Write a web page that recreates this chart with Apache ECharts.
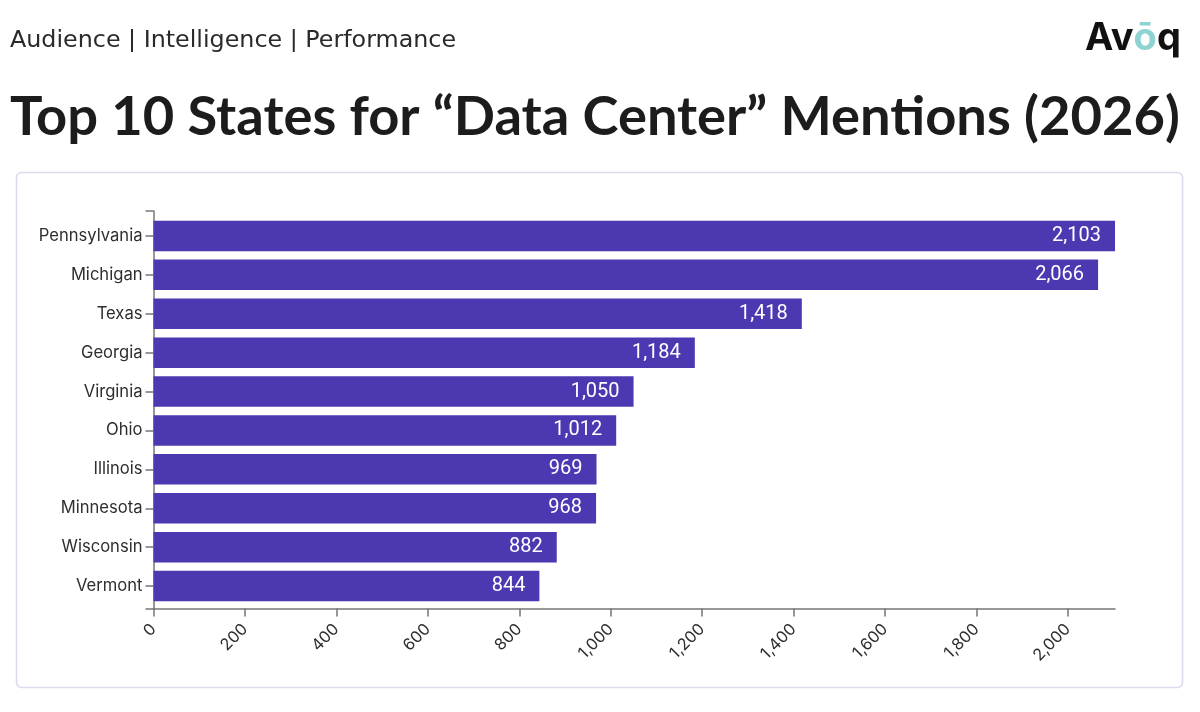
<!DOCTYPE html>
<html><head><meta charset="utf-8">
<style>html,body{margin:0;padding:0;background:#fff}#c{width:1200px;height:712px}</style>
<script src="https://cdn.jsdelivr.net/npm/echarts@6/dist/echarts.min.js"></script>
</head><body><div id="c"></div>
<script>
const states=["Pennsylvania","Michigan","Texas","Georgia","Virginia","Ohio","Illinois","Minnesota","Wisconsin","Vermont"];
const mentions=[2103,2066,1418,1184,1050,1012,969,968,882,844];
const axisMax=2103, tickStep=200;
const fmt=v=>Number(v).toLocaleString('en-US');
const axisColor='#757575', textColor='#2e2e2e';
const chart=echarts.init(document.getElementById('c'),null,{renderer:'canvas'});
chart.setOption({
  animation:false,
  backgroundColor:'#ffffff',
  title:[
    {text:'Audience | Intelligence | Performance',left:10,top:29,padding:0,textStyle:{fontFamily:'DejaVu Sans',fontSize:23.8,fontWeight:400,color:'#2a2a2a'}},
    {text:'Top 10 States for “Data Center” Mentions (2026)',left:10,top:90,padding:0,textStyle:{fontFamily:'Lato',fontSize:54.3,fontWeight:700,color:'#1c1c1c'}}
  ],
  graphic:[
    {type:'rect',z:-1,shape:{x:16.5,y:172.5,width:1166,height:515,r:5},style:{fill:'#fff',stroke:'#d9dcee',lineWidth:1.6}},
    {type:'text',left:1085,top:20,style:{rich:{a:{fontFamily:'Inter',fontSize:38,fontWeight:700,fill:'#111'},b:{fontFamily:'Inter',fontSize:38,fontWeight:700,fill:'#8fd3d3'}},text:'{a|Av}{b|ō}{a|q}'}}
  ],
  grid:[
    {left:153.5,right:85,top:216.5,bottom:106.5,containLabel:false},
    {left:153.5,right:85,top:211,bottom:103,containLabel:false}
  ],
  xAxis:[
    {type:'value',gridIndex:0,min:0,max:axisMax,interval:tickStep,offset:3,
     splitLine:{show:false},
     axisLine:{show:true,lineStyle:{color:axisColor,width:1.5}},
     axisTick:{show:true,length:8,lineStyle:{color:axisColor,width:1.5}},
     axisLabel:{rotate:45,margin:18,showMaxLabel:false,fontFamily:'Inter',fontSize:16.3,color:textColor,formatter:fmt}},
    {type:'value',gridIndex:1,min:0,max:axisMax,show:false}
  ],
  yAxis:[
    {type:'category',gridIndex:0,inverse:true,data:states,
     axisLine:{show:false},
     axisTick:{show:true,alignWithLabel:true,length:8,lineStyle:{color:axisColor,width:1.5}},
     axisLabel:{margin:11,fontFamily:'Inter',fontSize:16.6,color:textColor}},
    {type:'value',gridIndex:1,min:0,max:1,interval:1,
     splitLine:{show:false},
     axisLine:{show:true,lineStyle:{color:axisColor,width:1.5}},
     axisTick:{show:true,length:8,lineStyle:{color:axisColor,width:1.5}},
     axisLabel:{show:false}}
  ],
  series:[{type:'bar',xAxisIndex:0,yAxisIndex:0,data:mentions,barWidth:30.5,
    itemStyle:{color:'#4c39b1'},
    label:{show:true,position:'insideRight',distance:14,fontFamily:'Roboto',fontSize:20,color:'#fff',formatter:p=>fmt(p.value)}}]
});
</script></body></html>
